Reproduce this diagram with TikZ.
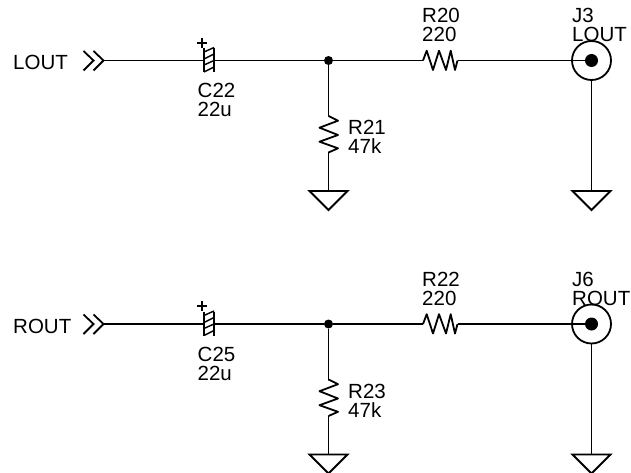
\documentclass[tikz,border=0pt]{standalone}
\usepackage{fontspec}
\setmainfont{Liberation Sans}
\newcommand{\chan}[7]{%
\begin{scope}[shift={(0,#1)},name prefix=#2-]
 \coordinate (in) at (103.5,60.5);
 \coordinate (capa) at (204,60.5);
 \coordinate (capb) at (214,60.5);
 \coordinate (rsa) at (423,60.5);
 \coordinate (rsb) at (457.5,60.5);
 \coordinate (rpa) at (328.5,116);
 \coordinate (rpb) at (328.5,152.5);
 \node[dot] (j) at (328.5,60.5) {};
 \node[jackouter] (jo) at (591.5,60.5) {};
 \node[jackinner] (ji) at (591.5,60.5) {};
 \node[gndpt] (g1) at (328.5,191) {};
 \node[gndpt] (g2) at (591.5,191) {};
 % off-page chevrons
 \draw[wire,line join=miter] (83.5,51) -- (93.5,60.5) -- (83.5,70.5);
 \draw[wire,line join=miter] (93.5,51) -- (in) -- (93.5,70.5);
 % capacitor
 \draw[wire] (204,48) -- (204,72);
 \draw[wire] (214,48) -- (214,72);
 \draw[thinwire] (204,52) -- (214,47.5) (204,59) -- (214,54) (204,65) -- (214,60.5) (204,72) -- (214,67);
 \draw[wire] (197,42.7) -- (207,42.7) (202,37.7) -- (202,47.7);
 % series resistor
 \draw[wire] (rsa) -- (426.7,50.7) -- (433,70) -- (439,50.7) -- (446,70) -- (450.7,50.7) -- (455,70) -- (rsb);
 % shunt resistor
 \draw[wire] (rpa) -- (338,120.7) -- (319.5,127.7) -- (338,135) -- (319.5,141.7) -- (338,148.3) -- (rpb);
 % grounds
 \draw[wire,line join=miter] (309.5,191) -- (347.5,191) -- (328.5,210) -- cycle;
 \draw[wire,line join=miter] (572.5,191) -- (610.5,191) -- (591.5,210) -- cycle;
 % wires
 \draw[wire] (in) -- (capa);
 \draw[wire] (capb) -- (j) -- (rsa);
 \draw[wire] (rsb) -- (ji);
 \draw[wire] (j) -- (rpa);
 \draw[wire] (rpb) -- (g1);
 \draw[wire] (jo) -- (g2);
 % labels
 \node[lbl] (net) at (13,70) {#3};
 \node[lbl] (plus) at (-50,-50) {};
 \node[lbl] (cn) at (197.5,98) {#4};
 \node[lbl] (cv) at (197.5,117) {22u};
 \node[lbl] (rsn) at (422,23) {#5};
 \node[lbl] (rsv) at (422,42) {220};
 \node[lbl] (rpn) at (348,135) {#6};
 \node[lbl] (rpv) at (348,153.5) {47k};
 \node[lbl] (jn) at (572,23) {#7};
 \node[lbl] (jv) at (572,42) {#3};
\end{scope}}
\tikzset{
 wire/.style={line width=1.8pt,line join=round,black},
 thinwire/.style={line width=1.4pt,black},
 dot/.style={circle,fill=black,inner sep=0,minimum size=9pt},
 jackouter/.style={circle,draw=black,line width=1.8pt,inner sep=0,minimum size=39pt},
 jackinner/.style={circle,fill=black,inner sep=0,minimum size=13pt},
 gndpt/.style={coordinate},
 lbl/.style={anchor=base west,inner sep=0,font=\fontsize{20.5pt}{24pt}\selectfont},
}
\begin{document}
\begin{tikzpicture}[x=1pt,y=-1pt]
\useasboundingbox (0,0) rectangle (631,473);
\chan{0}{top}{LOUT}{C22}{R20}{R21}{J3}
\chan{263.5}{bot}{ROUT}{C25}{R22}{R23}{J6}
\end{tikzpicture}
\end{document}
